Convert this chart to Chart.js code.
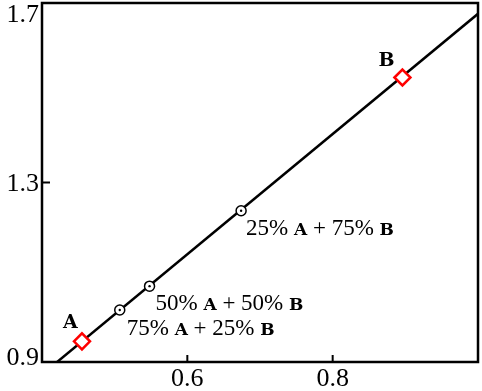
<!DOCTYPE html>
<html>
<head>
<meta charset="utf-8">
<script src="https://cdn.jsdelivr.net/npm/chart.js@4"></script>
<style>
  html, body { margin: 0; padding: 0; background: #fff; }
  #wrap { width: 482px; height: 391px; }
</style>
</head>
<body>
<div id="wrap"><canvas id="mixChart" width="482" height="391"></canvas></div>
<script>
// Pure components A and B
const pureX = [0.455, 0.896];
const pureY = [0.946, 1.534];
const pureNames = ['A', 'B'];

// Mixtures (75/25, 50/50, 25/75)
const mixX = [0.507, 0.548, 0.674];
const mixY = [1.016, 1.069, 1.237];
const mixNames = [
  ['75% ', 'A', ' + 25% ', 'B'],
  ['50% ', 'A', ' + 50% ', 'B'],
  ['25% ', 'A', ' + 75% ', 'B']
];

// Fitted line end points
const lineX = [0.42, 1.0];
const lineY = [0.899, 1.676];

// Axis ticks
const xTicks = [0.6, 0.8];
const yTicks = [0.9, 1.3, 1.7];

const serif = '"Liberation Serif", "Times New Roman", serif';
const slab = '"DejaVu Serif", "Courier New", serif';

const toPts = (xs, ys) => xs.map((x, i) => ({ x: x, y: ys[i] }));

// label offsets (px) from their marker
const pureOffsets = [[-19, -13], [-24, -11]];
const mixOffsets = [[7, 25], [6, 24], [5, 24]];

const frame = {
  id: 'frame',
  afterDraw(chart) {
    const { ctx, chartArea: a, scales } = chart;
    ctx.save();
    ctx.strokeStyle = '#000';
    ctx.lineWidth = 2.5;
    ctx.strokeRect(a.left, a.top, a.right - a.left, a.bottom - a.top);
    ctx.lineWidth = 2;
    // inward tick marks
    xTicks.forEach(v => {
      const px = scales.x.getPixelForValue(v);
      ctx.beginPath(); ctx.moveTo(px, a.bottom); ctx.lineTo(px, a.bottom - 7); ctx.stroke();
    });
    yTicks.forEach(v => {
      const py = scales.y.getPixelForValue(v);
      ctx.beginPath(); ctx.moveTo(a.left, py); ctx.lineTo(a.left + 8, py); ctx.stroke();
    });
    // tick labels
    ctx.fillStyle = '#000';
    ctx.font = '26px ' + serif;
    ctx.textAlign = 'right';
    ctx.textBaseline = 'middle';
    yTicks.forEach(v => {
      let py = scales.y.getPixelForValue(v);
      py = Math.min(Math.max(py + 2, a.top + 12), a.bottom - 4);
      ctx.fillText(v.toFixed(1), a.left - 3, py);
    });
    ctx.textAlign = 'center';
    xTicks.forEach(v => {
      ctx.fillText(v.toFixed(1), scales.x.getPixelForValue(v), a.bottom + 17);
    });
    // point labels
    ctx.textAlign = 'left';
    ctx.textBaseline = 'alphabetic';
    pureNames.forEach((n, i) => {
      const px = scales.x.getPixelForValue(pureX[i]) + pureOffsets[i][0];
      const py = scales.y.getPixelForValue(pureY[i]) + pureOffsets[i][1];
      ctx.font = 'bold 19px ' + slab;
      ctx.fillText(n, px, py);
    });
    mixNames.forEach((parts, i) => {
      let px = scales.x.getPixelForValue(mixX[i]) + mixOffsets[i][0];
      const py = scales.y.getPixelForValue(mixY[i]) + mixOffsets[i][1];
      parts.forEach((t, k) => {
        ctx.font = (k % 2 === 1) ? 'bold 17px ' + slab : '23px ' + serif;
        ctx.fillText(t, px, py);
        px += ctx.measureText(t).width;
      });
    });
    ctx.restore();
  }
};

new Chart(document.getElementById('mixChart'), {
  type: 'scatter',
  data: {
    datasets: [
      {
        label: 'fit',
        data: toPts(lineX, lineY),
        showLine: true,
        borderColor: '#000',
        borderWidth: 2.5,
        pointRadius: 0,
        order: 3
      },
      {
        label: 'pure',
        data: toPts(pureX, pureY),
        pointStyle: 'rectRot',
        pointRadius: 8,
        pointBorderWidth: 2.5,
        pointBorderColor: '#ff0000',
        pointBackgroundColor: '#fff',
        order: 1
      },
      {
        label: 'mix',
        data: toPts(mixX, mixY),
        pointStyle: 'circle',
        pointRadius: 5,
        pointBorderWidth: 1.5,
        pointBorderColor: '#000',
        pointBackgroundColor: '#fff',
        order: 2
      },
      {
        label: 'mix dot',
        data: toPts(mixX, mixY),
        pointStyle: 'circle',
        pointRadius: 1.2,
        pointBorderWidth: 0,
        pointBackgroundColor: '#000',
        order: 0
      }
    ]
  },
  options: {
    responsive: false,
    animation: false,
    layout: { autoPadding: false, padding: { top: 3, right: 4, left: 0, bottom: 0 } },
    plugins: { legend: { display: false }, tooltip: { enabled: false } },
    scales: {
      x: {
        type: 'linear',
        min: 0.4,
        max: 1.0,
        afterBuildTicks: s => { s.ticks = xTicks.map(v => ({ value: v })); },
        afterFit: s => { s.height = 29; s.paddingLeft = 0; s.paddingRight = 0; },
        grid: { display: false },
        border: { display: false },
        ticks: { display: false }
      },
      y: {
        type: 'linear',
        min: 0.9,
        max: 1.7,
        afterBuildTicks: s => { s.ticks = yTicks.map(v => ({ value: v })); },
        afterFit: s => { s.width = 42; s.paddingTop = 0; s.paddingBottom = 0; },
        grid: { display: false },
        border: { display: false },
        ticks: { display: false }
      }
    }
  },
  plugins: [frame]
});
</script>
</body>
</html>
